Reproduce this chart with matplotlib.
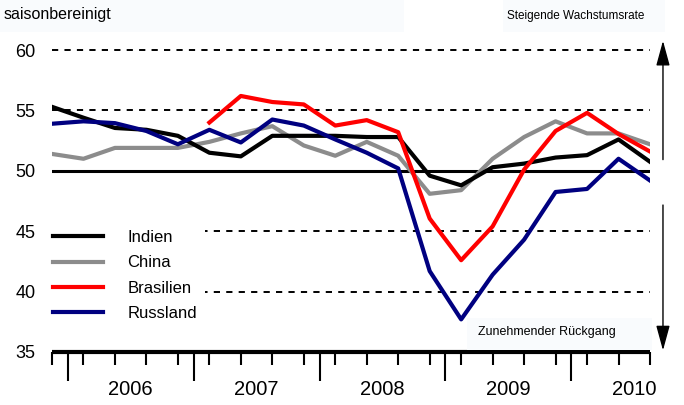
import numpy as np
import matplotlib.pyplot as plt
from matplotlib.patches import Rectangle
from matplotlib.transforms import blended_transform_factory

plt.rcParams['font.family'] = ['Liberation Sans Narrow', 'Liberation Sans', 'DejaVu Sans']

# quarterly PMI values, Q4 2005 .. Q3 2010
quarters = ["2005Q4",
            "2006Q1", "2006Q2", "2006Q3", "2006Q4",
            "2007Q1", "2007Q2", "2007Q3", "2007Q4",
            "2008Q1", "2008Q2", "2008Q3", "2008Q4",
            "2009Q1", "2009Q2", "2009Q3", "2009Q4",
            "2010Q1", "2010Q2", "2010Q3"]
indien = [55.3, 54.4, 53.55, 53.4, 52.9, 51.5, 51.2, 52.9, 52.9, 52.9,
          52.8, 52.8, 49.6, 48.8, 50.3, 50.6, 51.1, 51.3, 52.6, 50.75]
china = [51.4, 51.0, 51.9, 51.9, 51.9, 52.4, 53.1, 53.7, 52.1, 51.25,
         52.4, 51.25, 48.1, 48.4, 51.0, 52.8, 54.1, 53.1, 53.1, 52.2]
brasilien = [np.nan, np.nan, np.nan, np.nan, np.nan, 54.0, 56.2, 55.7, 55.5, 53.75,
             54.2, 53.2, 46.05, 42.6, 45.4, 50.1, 53.3, 54.8, 53.05, 51.6]
russland = [53.9, 54.1, 53.95, 53.3, 52.2, 53.4, 52.35, 54.25, 53.75, 52.6,
            51.5, 50.2, 41.7, 37.7, 41.4, 44.3, 48.25, 48.5, 51.0, 49.2]
years = [2006, 2007, 2008, 2009, 2010]
yticks = [35, 40, 45, 50, 55, 60]

# quarter label -> position in middle of the quarter
x = [int(q[:4]) + (int(q[-1]) - 0.5) / 4 for q in quarters]

fig = plt.figure(figsize=(6.84, 4.05), dpi=100)
ax = fig.add_axes([52 / 684, 1 - 352 / 405, 598 / 684, 314 / 405])
ax.set_xlim(x[0], x[-1])
ax.set_ylim(35, 61)

# very light boxes behind the header texts
for (x0, y0, w, h) in [(0, 0, 404, 32), (503, 0, 162, 32), (467, 318, 185, 32)]:
    fig.patches.append(Rectangle((x0 / 684, 1 - (y0 + h) / 405), w / 684, h / 405,
                                 transform=fig.transFigure, facecolor='#f9fbfd',
                                 edgecolor='none', zorder=0))

for v in [40, 45, 55, 60]:
    ax.axhline(v, color='black', lw=1.4, ls=(0, (3.2, 3.2)), zorder=1)
ax.axhline(50, color='black', lw=2.2, zorder=2)

ax.plot(x, china, color='#8c8c8c', lw=3, label='China', zorder=3)
ax.plot(x, indien, color='black', lw=3, label='Indien', zorder=4)
ax.plot(x, brasilien, color='#ff0000', lw=3, label='Brasilien', zorder=5)
ax.plot(x, russland, color='#000080', lw=3, label='Russland', zorder=6)

h, l = ax.get_legend_handles_labels()
order = [1, 0, 2, 3]
leg = ax.legend([h[i] for i in order], [l[i] for i in order],
                loc='upper left', bbox_to_anchor=(-0.012, 0.415), frameon=True,
                facecolor='white', edgecolor='none', framealpha=1, fancybox=False,
                fontsize=12, handlelength=3.0, handletextpad=1.45, labelspacing=0.62,
                borderpad=0.5, borderaxespad=0)
leg.set_zorder(7)
for line in leg.get_lines():
    line.set_linewidth(3)

for s in ['left', 'right', 'top']:
    ax.spines[s].set_visible(False)
ax.spines['bottom'].set_linewidth(3)
ax.spines['bottom'].set_capstyle('butt')

ax.set_yticks(yticks)
ax.tick_params(axis='y', length=0, pad=12, labelsize=13)
ax.set_xticks(years)
ax.set_xticklabels([])
ax.set_xticks(x, minor=True)
ax.tick_params(axis='x', which='major', length=21, width=1.5, direction='out')
ax.tick_params(axis='x', which='minor', length=9, width=1.5, direction='out')

trans = ax.get_xaxis_transform()
for yr in years:
    ax.text(yr + 0.5, -0.118, str(yr), transform=trans, ha='center', va='center',
            fontsize=14.5)

# arrows on the right side
at = blended_transform_factory(ax.transAxes, ax.transData)
ax.annotate('', xy=(1.0217, 61.0), xytext=(1.0217, 50.7), xycoords=at, textcoords=at,
            arrowprops=dict(arrowstyle='-|>,head_length=1.1,head_width=0.3',
                            mutation_scale=14, lw=1, color='black'),
            annotation_clip=False)
ax.annotate('', xy=(1.0217, 34.9), xytext=(1.0217, 47.4), xycoords=at, textcoords=at,
            arrowprops=dict(arrowstyle='-|>,head_length=1.1,head_width=0.3',
                            mutation_scale=14, lw=1, color='black'),
            annotation_clip=False)

fig.text(4 / 684, 1 - 15 / 405, 'saisonbereinigt', ha='left', va='center', fontsize=11.5)
fig.text(576 / 684, 1 - 16 / 405, 'Steigende Wachstumsrate', ha='center', va='center',
         fontsize=8.5, family=['Liberation Sans', 'DejaVu Sans'])
fig.text(547 / 684, 1 - 332 / 405, 'Zunehmender Rückgang', ha='center', va='center',
         fontsize=9, family=['Liberation Sans', 'DejaVu Sans'])

fig.savefig('out.png', dpi=100)
